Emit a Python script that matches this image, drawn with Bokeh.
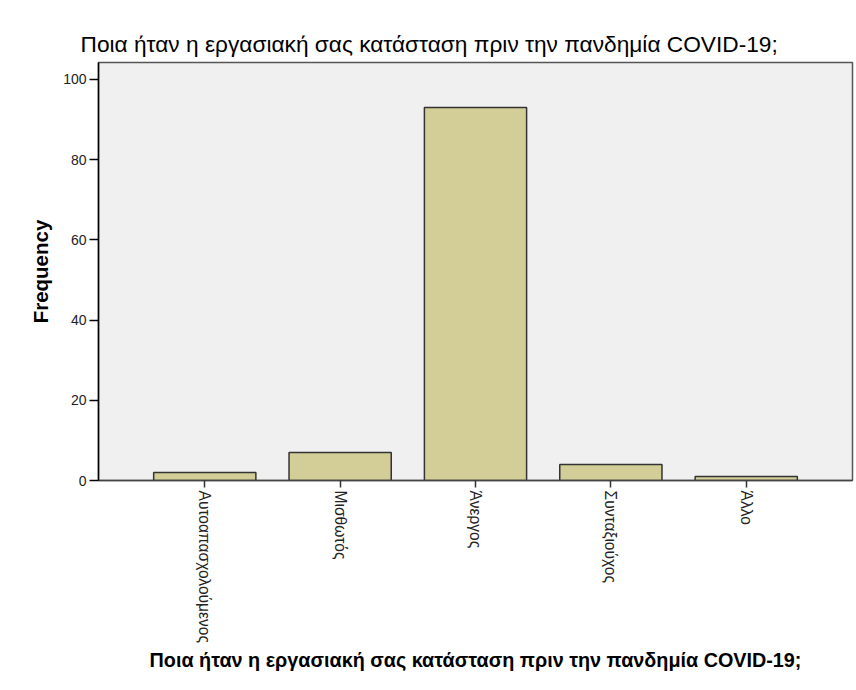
import math
from bokeh.plotting import figure
from bokeh.models import FactorRange, Range1d, FixedTicker
from bokeh.embed import file_html
from bokeh.resources import INLINE

categories = ["Αυτοαπασχολούμενος", "Μισθωτός", "Άνεργος", "Συνταξιούχος", "Άλλο"]
frequency = [2, 7, 93, 4, 1]
y_ticks = [0, 20, 40, 60, 80, 100]
title_text = "Ποια ήταν η εργασιακή σας κατάσταση πριν την πανδημία COVID-19;"
y_label = "Frequency"

p = figure(width=854, height=682, output_backend="svg", toolbar_location=None,
           x_range=FactorRange(factors=categories, range_padding=0.114,
                               range_padding_units="percent"),
           y_range=Range1d(0, 104.2),
           min_border_left=98, min_border_right=2, min_border_top=62,
           min_border_bottom=202)

p.vbar(x=categories, top=frequency, width=0.755,
       fill_color="#d3ce97", line_color="#333333", line_width=1.5)

p.background_fill_color = "#f0f0f0"
p.border_fill_color = "white"
p.outline_line_color = "#555555"
p.outline_line_width = 1.5
p.xgrid.visible = False
p.ygrid.visible = False

p.title.text = title_text
p.title.align = "left"
p.title.offset = -18
p.title.text_font = "Liberation Sans"
p.title.text_font_size = "22.7px"
p.title.text_font_style = "normal"
p.title.text_color = "black"
p.title.standoff = 11

xa = p.xaxis[0]
xa.axis_label = title_text
xa.axis_label_text_font = "Liberation Sans"
xa.axis_label_text_font_style = "bold"
xa.axis_label_text_font_size = "19.8px"
xa.axis_label_text_color = "black"
xa.axis_label_standoff = 3
xa.major_label_orientation = -math.pi / 2
xa.major_label_text_font = "Liberation Sans"
xa.major_label_text_font_size = "15.6px"
xa.major_label_text_color = "#222222"
xa.major_tick_out = 7
xa.major_tick_in = 0
xa.major_tick_line_color = "#333333"
xa.major_tick_line_width = 1.5
xa.axis_line_color = "#444444"
xa.axis_line_width = 1.5
xa.major_label_standoff = 3

ya = p.yaxis[0]
ya.ticker = FixedTicker(ticks=y_ticks)
ya.axis_label = y_label
ya.axis_label_text_font = "Liberation Sans"
ya.axis_label_text_font_style = "bold"
ya.axis_label_text_font_size = "20.5px"
ya.axis_label_text_color = "black"
ya.axis_label_standoff = 8
ya.major_label_text_font = "Liberation Sans"
ya.major_label_text_font_size = "14px"
ya.major_label_text_color = "#222222"
ya.major_tick_out = 9
ya.major_tick_in = 0
ya.minor_tick_out = 0
ya.minor_tick_in = 0
ya.major_tick_line_color = "black"
ya.major_tick_line_width = 1.5
ya.axis_line_color = "black"
ya.axis_line_width = 1.5
ya.major_label_standoff = 3

open("out.html", "w").write(file_html(p, INLINE))
